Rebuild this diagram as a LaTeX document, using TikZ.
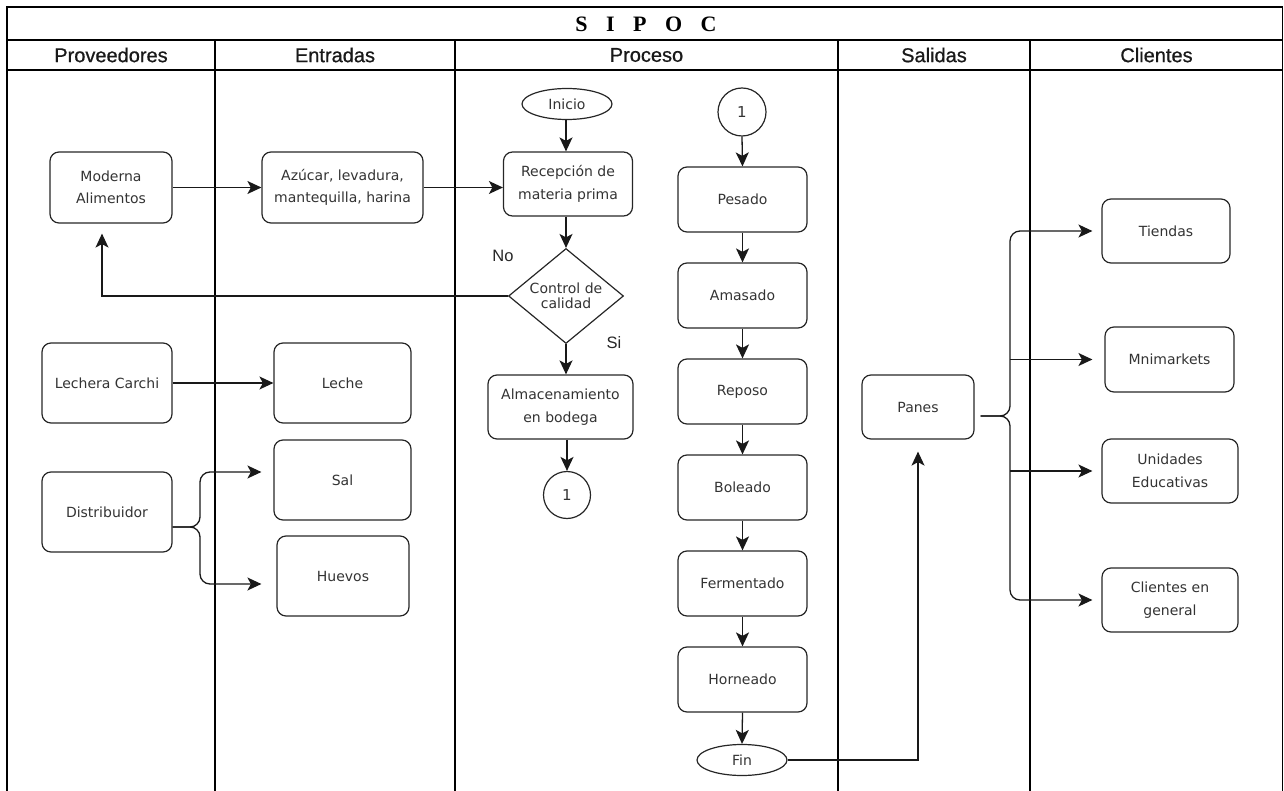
\documentclass[tikz,border=0pt]{standalone}
\usepackage{fontspec}
\usetikzlibrary{shapes.geometric,arrows.meta,calc}
\newfontfamily\boxfont{DejaVu Sans}
\newfontfamily\headfont[FakeBold=0.7]{Liberation Sans}
\newfontfamily\labelfont{Liberation Sans}
\newfontfamily\titlefont{Liberation Serif}

\begin{document}
\begin{tikzpicture}[x=1pt,y=-1pt,
  box/.style={draw=black!85, line width=1.2pt, rounded corners=9pt, align=center,
    inner sep=0pt, font=\boxfont\fontsize{14}{22.5}\selectfont, text=black!80},
  term/.style={draw=black!85, line width=1.2pt, ellipse, inner sep=0pt,
    minimum width=90pt, minimum height=31pt,
    font=\boxfont\fontsize{14}{17}\selectfont, text=black!80},
  link/.style={circle, draw=black!85, line width=1.2pt, inner sep=0pt,
    font=\boxfont\fontsize{15}{17}\selectfont, text=black!80},
  decision/.style={diamond, aspect=1.21, draw=black!85, line width=1.2pt, align=center,
    inner sep=0pt, minimum width=115pt, minimum height=95pt,
    font=\boxfont\fontsize{14}{15}\selectfont, text=black!80},
  arr/.style={draw=black!90, line width=1.3pt, -{Stealth[length=14pt,width=13pt,inset=3.5pt]}},
  lane/.style={line width=1.2pt},
  band/.style={line width=1.6pt},
  hdr/.style={font=\headfont\fontsize{20}{24}\selectfont, text=black!90},
  lbl/.style={font=\labelfont\fontsize{16.5}{20}\selectfont, text=black!85},
]
\useasboundingbox (0,0) rectangle (1284,791);

% swimlane frame
\draw[line width=1.4pt] (7,791) -- (7,7) -- (1282.5,7) -- (1282.5,791);
\draw[band] (7,40) -- (1282.5,40);
\draw[band] (7,70) -- (1282.5,70);
\foreach \x in {215,455,838,1030} \draw[lane] (\x,40) -- (\x,791);

% titles
\node[font=\titlefont\bfseries\fontsize{22}{24}\selectfont] (title) at (646,24)
  {S\hspace{18.5pt}I\hspace{18.5pt}P\hspace{18.5pt}O\hspace{18.5pt}C};
\node[hdr] (hprov) at (111,55) {Proveedores};
\node[hdr] (hent) at (335,55) {Entradas};
\node[hdr] (hproc) at (646.5,55) {Proceso};
\node[hdr] (hsal) at (934,55) {Salidas};
\node[hdr] (hcli) at (1156.5,55) {Clientes};

% suppliers
\node[box, minimum width=122pt, minimum height=71pt] (mod) at (111,187.5) {Moderna\\Alimentos};
\node[box, minimum width=130pt, minimum height=80pt] (lec) at (107,383) {Lechera Carchi};
\node[box, minimum width=130pt, minimum height=80pt] (dis) at (107,512) {Distribuidor};

% inputs
\node[box, minimum width=161pt, minimum height=71pt] (azu) at (342.5,187.5) {Azúcar, levadura,\\mantequilla, harina};
\node[box, minimum width=137pt, minimum height=80pt] (leche) at (342.5,383) {Leche};
\node[box, minimum width=137pt, minimum height=80pt] (sal) at (342.5,480) {Sal};
\node[box, minimum width=132pt, minimum height=80pt] (hue) at (343,576) {Huevos};

% process, first column
\node[term] (ini) at (567,104) {Inicio};
\node[box, minimum width=129pt, minimum height=64pt] (rec) at (568,184) {Recepción de\\materia prima};
\node[decision] (ctrl) at (566,296) {Control de\\calidad};
\node[lbl] (no) at (503,256) {No};
\node[lbl] (si) at (614,343) {Si};
\node[box, minimum width=145pt, minimum height=64pt] (alm) at (560.5,407) {Almacenamiento\\en bodega};
\node[link, minimum size=47pt] (ca) at (567,495) {1};

% process, second column
\node[link, minimum size=48pt] (cb) at (742,112) {1};
\node[box, minimum width=129pt, minimum height=65pt] (pes) at (742.5,199.5) {Pesado};
\node[box, minimum width=129pt, minimum height=65pt] (ama) at (742.5,295.5) {Amasado};
\node[box, minimum width=129pt, minimum height=65pt] (rep) at (742.5,391.5) {Reposo};
\node[box, minimum width=129pt, minimum height=65pt] (bol) at (742.5,487.5) {Boleado};
\node[box, minimum width=129pt, minimum height=65pt] (fer) at (742.5,583.5) {Fermentado};
\node[box, minimum width=129pt, minimum height=65pt] (hor) at (742.5,679.5) {Horneado};
\node[term] (fin) at (742,760) {Fin};

% outputs and customers
\node[box, minimum width=112pt, minimum height=64pt] (pan) at (918,407) {Panes};
\node[box, minimum width=128pt, minimum height=64pt] (tie) at (1166,231) {Tiendas};
\node[box, minimum width=129pt, minimum height=65pt] (mni) at (1169.5,359.5) {Mnimarkets};
\node[box, minimum width=136pt, minimum height=64pt] (uni) at (1170,471) {Unidades\\Educativas};
\node[box, minimum width=136pt, minimum height=64pt] (cli) at (1170,600) {Clientes en\\general};

% suppliers to inputs
\draw[arr] (mod.east) -- (azu.west);
\draw[arr] (azu.east) -- (rec.west |- azu.east);
\draw[arr] (lec.east) -- (leche.west);
\coordinate (dj) at (200,527);
\draw[arr, rounded corners=10pt, shorten >=12pt] ([yshift=-15pt]dis.east) -- (dj) |- ([yshift=8pt]sal.west);
\draw[arr, rounded corners=10pt, shorten >=15pt] ([yshift=-15pt]dis.east) -- (dj) |- ([yshift=-8pt]hue.west);

% reception and quality check
\draw[arr] (ctrl.north |- ini.south) -- (ctrl.north |- rec.north);
\draw[arr] (ctrl.north |- rec.south) -- (ctrl.north);
\draw[arr] (ctrl.south) -- (ctrl.south |- alm.north);
\draw[arr] (ca.north |- alm.south) -- (ca.north);
\draw[arr, shorten >=10pt] (ctrl.west) -| ([xshift=-9pt]mod.south);

% production steps
\draw[arr] (cb.south) -- (pes.north);
\draw[arr] (pes.south) -- (ama.north);
\draw[arr] (ama.south) -- (rep.north);
\draw[arr] (rep.south) -- (bol.north);
\draw[arr] (bol.south) -- (fer.north);
\draw[arr] (fer.south) -- (hor.north);
\draw[arr] (hor.south) -- (fin.north);
\draw[arr, shorten >=12pt] (fin.east) -| (pan.south);

% distribution to customers
\coordinate (pj) at (1010,416);
\coordinate (ps) at ([xshift=6pt,yshift=-9pt]pan.east);
\draw[arr, rounded corners=10pt, shorten >=9pt] (ps) -- (pj) |- (tie.west);
\draw[arr, rounded corners=10pt, shorten >=9pt] (ps) -- (pj) |- (cli.west);
\draw[arr, shorten >=12pt] (pj |- mni.west) -- (mni.west);
\draw[arr, shorten >=9pt] (pj |- uni.west) -- (uni.west);
\end{tikzpicture}
\end{document}
